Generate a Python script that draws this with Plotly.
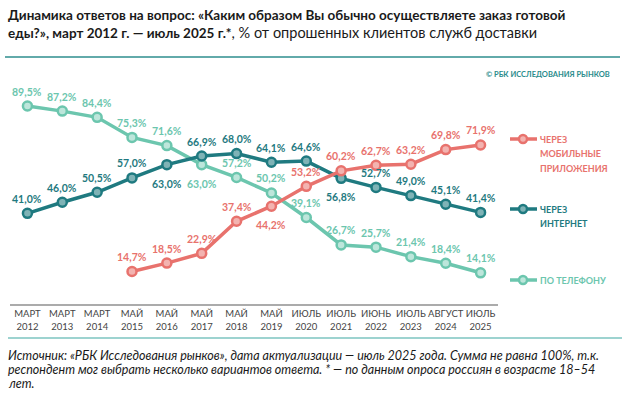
import plotly.graph_objects as go

W, H = 624, 398

categories = ["МАРТ<br>2012", "МАРТ<br>2013", "МАРТ<br>2014", "МАЙ<br>2015", "МАЙ<br>2016",
              "МАЙ<br>2017", "МАЙ<br>2018", "МАЙ<br>2019", "ИЮЛЬ<br>2020", "ИЮЛЬ<br>2021",
              "ИЮНЬ<br>2022", "ИЮЛЬ<br>2023", "АВГУСТ<br>2024", "ИЮЛЬ<br>2025"]

mobile = [None, None, None, 14.7, 18.5, 22.9, 37.4, 44.2, 53.2, 60.2, 62.7, 63.2, 69.8, 71.9]
internet = [41.0, 46.0, 50.5, 57.0, 63.0, 66.9, 68.0, 64.1, 64.6, 56.8, 52.7, 49.0, 45.1, 41.4]
phone = [89.5, 87.2, 84.4, 75.3, 71.6, 63.0, 57.2, 50.2, 39.1, 26.7, 25.7, 21.4, 18.4, 14.1]

mobile_below = [7]
internet_below = [4, 9]
phone_below = [5]

C_MOB = "#E8726D"
C_INT = "#1F7A80"
C_PHO = "#6CC6AE"
C_MOB_IN = "#F3B3B0"
C_INT_IN = "#7FB3B6"
C_PHO_IN = "#BDE6DB"

FONT = "Lato"


def fmt(v):
    return f"{v:.1f}%".replace(".", ",")


def px(x):
    return x / W


def py(y):
    return 1 - y / H


fig = go.Figure()
ann = []
for vals, below, col, inner in [(phone, phone_below, C_PHO, C_PHO_IN),
                                (internet, internet_below, C_INT, C_INT_IN),
                                (mobile, mobile_below, C_MOB, C_MOB_IN)]:
    fig.add_trace(go.Scatter(
        x=categories, y=vals, mode="lines+markers",
        line=dict(color=col, width=3.5),
        marker=dict(size=9, color=inner, line=dict(color=col, width=2.5)),
        cliponaxis=False, showlegend=False, hoverinfo="skip"))
    for i, v in enumerate(vals):
        if v is None:
            continue
        ann.append(dict(x=categories[i], y=v, xref="x", yref="y", showarrow=False,
                        xanchor="center", yanchor="middle",
                        yshift=-19 if i in below else 14.5,
                        text=fmt(v),
                        font=dict(family=FONT, size=10.5, color=col, weight="bold")))

fig.update_layout(
    width=W, height=H, margin=dict(l=0, r=0, t=0, b=0),
    paper_bgcolor="white", plot_bgcolor="white",
    font=dict(family=FONT, color="#333"),
    xaxis=dict(domain=[px(10), px(498)], range=[-0.5, 13.5], type="category",
               showgrid=False, showline=True, linecolor="#ABABAB", linewidth=2,
               ticks="", tickfont=dict(family=FONT, size=9.5, color="#444"),
               zeroline=False, fixedrange=True, automargin=False),
    yaxis=dict(domain=[py(304), py(82.8)], range=[0, 100], visible=False, fixedrange=True),
)

ann.append(dict(x=px(6), y=py(15), xref="paper", yref="paper", xanchor="left", yanchor="middle",
                showarrow=False, align="left",
                text="<b>Динамика ответов на вопрос: «Каким образом Вы обычно осуществляете заказ готовой</b>",
                font=dict(family=FONT, size=13.5, color="#1a1a1a")))
ann.append(dict(x=px(6), y=py(33), xref="paper", yref="paper", xanchor="left", yanchor="middle",
                showarrow=False, align="left",
                text="<b>еды?», март 2012 г. — июль 2025 г.*</b>"
                     "<span style='font-size:14.5px'>, % от опрошенных клиентов служб доставки</span>",
                font=dict(family=FONT, size=13.5, color="#1a1a1a")))
ann.append(dict(x=px(612), y=py(74), xref="paper", yref="paper", xanchor="right", yanchor="middle",
                showarrow=False, text="© РБК ИССЛЕДОВАНИЯ РЫНКОВ",
                font=dict(family=FONT, size=7.5, color="#2A8C8C", weight="bold")))

legend_items = [(["ЧЕРЕЗ", "МОБИЛЬНЫЕ", "ПРИЛОЖЕНИЯ"], C_MOB, C_MOB_IN, 139),
                (["ЧЕРЕЗ", "ИНТЕРНЕТ"], C_INT, C_INT_IN, 209),
                (["ПО ТЕЛЕФОНУ"], C_PHO, C_PHO_IN, 280)]
shapes = []
for lines, col, inner, ly in legend_items:
    shapes.append(dict(type="line", xref="paper", yref="paper", x0=px(510), x1=px(537),
                       y0=py(ly), y1=py(ly), line=dict(color=col, width=3.5)))
    shapes.append(dict(type="circle", xref="paper", yref="paper",
                       x0=px(519), x1=px(527), y0=py(ly + 4), y1=py(ly - 4),
                       fillcolor=inner, line=dict(color=col, width=2.5)))
    for k, t in enumerate(lines):
        ann.append(dict(x=px(538), y=py(ly + 14.5 * k), xref="paper", yref="paper",
                        xanchor="left", yanchor="middle", showarrow=False, text=t,
                        font=dict(family=FONT, size=9, color=col, weight="bold")))

shapes.append(dict(type="line", xref="paper", yref="paper", x0=px(5), x1=px(620),
                   y0=py(57), y1=py(57), line=dict(color="#2E8E8E", width=1.5)))
shapes.append(dict(type="line", xref="paper", yref="paper", x0=px(8), x1=px(622),
                   y0=py(338), y1=py(338), line=dict(color="#7CC4C0", width=1.5)))

source_lines = ["Источник: «РБК Исследования рынков», дата актуализации — июль 2025 года. Сумма не равна 100%, т.к.",
                "респондент мог выбрать несколько вариантов ответа. * — по данным опроса россиян в возрасте 18–54",
                "лет."]
for k, t in enumerate(source_lines):
    ann.append(dict(x=px(6), y=py(355 + 14 * k), xref="paper", yref="paper", xanchor="left",
                    yanchor="middle", showarrow=False, align="left", text=f"<i>{t}</i>",
                    font=dict(family=FONT, size=12.5, color="#1a1a1a")))

fig.update_layout(annotations=ann, shapes=shapes)
fig.write_html("out.html", config={"displayModeBar": False},
               post_script="document.body.style.margin='0';")
